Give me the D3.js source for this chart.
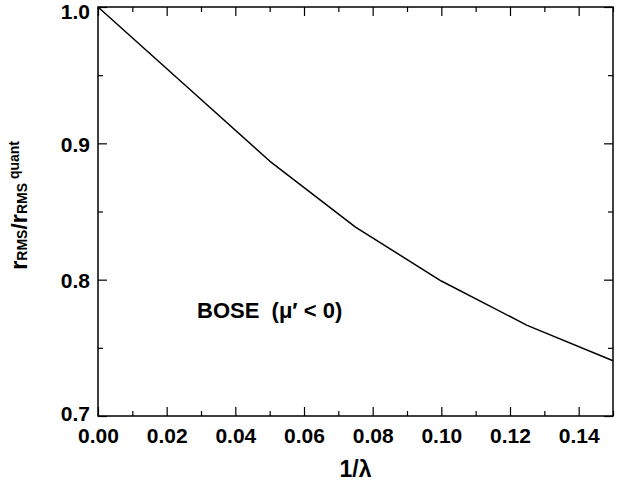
<!DOCTYPE html>
<html>
<head>
<meta charset="utf-8">
<script src="https://cdn.jsdelivr.net/npm/d3@7"></script>
<style>
  html, body { margin: 0; padding: 0; background: #fff; }
  svg { display: block; }
  text { font-family: "Liberation Sans", Arial, Helvetica, sans-serif; font-weight: bold; fill: #000; }
</style>
</head>
<body>
<svg id="chart" width="627" height="484"></svg>
<script>
// ---- data ----
const invLambda = [0.000, 0.025, 0.050, 0.075, 0.100, 0.125, 0.150];
const ratio     = [1.000, 0.9435, 0.887, 0.8385, 0.799, 0.7665, 0.7405];
const xTickValues = [0.00, 0.02, 0.04, 0.06, 0.08, 0.10, 0.12, 0.14];
const xMinorTicks = [0.01, 0.03, 0.05, 0.07, 0.09, 0.11, 0.13, 0.15];
const yTickValues = [0.7, 0.8, 0.9, 1.0];
const yMinorTicks = [0.75, 0.85, 0.95];
const xTitle = "1/λ";
const annotation = "BOSE  (μ′ < 0)";

// ---- layout ----
const svg = d3.select("#chart");
const L = 98, R = 613, T = 7, B = 416;
const x = d3.scaleLinear().domain([0, 0.15]).range([L, R]);
const y = d3.scaleLinear().domain([0.7, 1.0]).range([B, T]);

const majorLen = 9, minorLen = 5;

function styleAxis(g) {
  g.select(".domain").remove();
  g.selectAll(".tick line").attr("stroke", "#000").attr("stroke-width", 1.2);
}

// bottom major with labels
svg.append("g").attr("transform", `translate(0,${B})`)
  .call(d3.axisBottom(x).tickValues(xTickValues).tickSize(-majorLen).tickPadding(12)
    .tickFormat(d3.format(".2f")))
  .call(styleAxis)
  .call(g => g.selectAll("text").attr("font-size", 21).attr("fill", "#000")
    .attr("font-family", "'Liberation Sans', Arial, sans-serif").attr("font-weight", "bold"));
svg.append("g").attr("transform", `translate(0,${B})`)
  .call(d3.axisBottom(x).tickValues(xMinorTicks).tickSize(-minorLen).tickFormat(""))
  .call(styleAxis);
// top mirrored
svg.append("g").attr("transform", `translate(0,${T})`)
  .call(d3.axisTop(x).tickValues(xTickValues).tickSize(-majorLen).tickFormat(""))
  .call(styleAxis);
svg.append("g").attr("transform", `translate(0,${T})`)
  .call(d3.axisTop(x).tickValues(xMinorTicks).tickSize(-minorLen).tickFormat(""))
  .call(styleAxis);

// left major with labels
svg.append("g").attr("transform", `translate(${L},0)`)
  .call(d3.axisLeft(y).tickValues(yTickValues).tickSize(-majorLen).tickPadding(8)
    .tickFormat(d3.format(".1f")))
  .call(styleAxis)
  .call(g => g.selectAll("text").attr("font-size", 21).attr("fill", "#000")
    .attr("font-family", "'Liberation Sans', Arial, sans-serif").attr("font-weight", "bold")
    .attr("dy", d => d === 1.0 ? "0.55em" : (d === 0.7 ? "0.2em" : "0.38em")));
svg.append("g").attr("transform", `translate(${L},0)`)
  .call(d3.axisLeft(y).tickValues(yMinorTicks).tickSize(-minorLen).tickFormat(""))
  .call(styleAxis);
// right mirrored
svg.append("g").attr("transform", `translate(${R},0)`)
  .call(d3.axisRight(y).tickValues(yTickValues).tickSize(-majorLen).tickFormat(""))
  .call(styleAxis);
svg.append("g").attr("transform", `translate(${R},0)`)
  .call(d3.axisRight(y).tickValues(yMinorTicks).tickSize(-minorLen).tickFormat(""))
  .call(styleAxis);

// frame
svg.append("rect")
  .attr("x", L).attr("y", T).attr("width", R - L).attr("height", B - T)
  .attr("fill", "none").attr("stroke", "#000").attr("stroke-width", 1.5);

// curve
const pts = invLambda.map((v, i) => [v, ratio[i]]);
svg.append("path")
  .datum(pts)
  .attr("fill", "none").attr("stroke", "#000").attr("stroke-width", 1.5)
  .attr("stroke-linejoin", "round")
  .attr("d", d3.line().x(d => x(d[0])).y(d => y(d[1])));

// annotation
svg.append("text")
  .attr("x", 197).attr("y", 318)
  .attr("font-size", 22)
  .style("white-space", "pre")
  .text(annotation);

// x title
svg.append("text")
  .attr("x", (L + R) / 2).attr("y", 477)
  .attr("text-anchor", "middle")
  .attr("font-size", 23)
  .text(xTitle);

// y title
const yt = svg.append("text")
  .attr("transform", `translate(27,${(T + B) / 2 - 6}) rotate(-90)`)
  .attr("text-anchor", "middle");
yt.append("tspan").attr("font-size", 24).text("r");
yt.append("tspan").attr("font-size", 14).text("RMS");
yt.append("tspan").attr("font-size", 22).text("/");
yt.append("tspan").attr("font-size", 24).text("r");
yt.append("tspan").attr("font-size", 14).text("RMS");
yt.append("tspan").attr("font-size", 14).attr("dy", -8).text(" quant");
</script>
</body>
</html>
